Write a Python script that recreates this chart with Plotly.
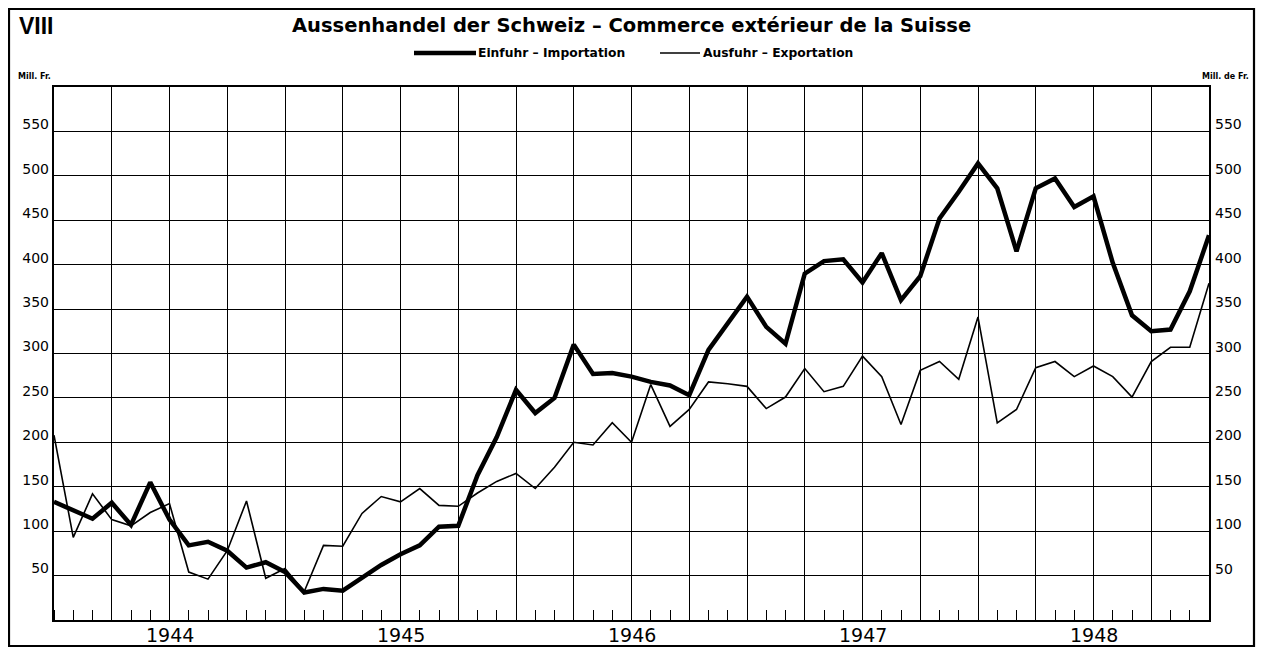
import plotly.graph_objects as go

# ---------------- data (monthly values, Mill. Fr.) ----------------
month_index = list(range(61))  # month positions along the time axis
import_values = [
    133, 124, 114, 132, 107, 155, 113, 84, 88, 78, 59, 65, 54,
    31, 35, 33, 48, 62, 74, 84, 105, 106, 163, 206, 259,
    233, 250, 310, 277, 278, 274, 268, 264, 253, 304, 334, 364,
    330, 311, 390, 404, 406, 380, 413, 360, 387, 452, 482, 514,
    486, 415, 486, 497, 465, 477, 402, 343, 325, 327, 370, 433,
]
export_values = [
    208, 93, 142, 113, 106, 121, 131, 54, 46, 78, 134, 47, 58,
    32, 84, 83, 120, 139, 133, 148, 129, 128, 143, 156, 165,
    148, 172, 200, 197, 222, 200, 265, 218, 237, 268, 266, 263,
    238, 251, 283, 257, 263, 297, 274, 220, 281, 291, 271, 341,
    222, 237, 284, 291, 274, 286, 274, 251, 291, 307, 307, 379,
]
years = ["1944", "1945", "1946", "1947", "1948"]
year_mid_months = [6, 18, 30, 42, 54]
quarter_ticks = list(range(0, 61, 3))
y_ticks = [50, 100, 150, 200, 250, 300, 350, 400, 450, 500, 550]

title_text = "Aussenhandel der Schweiz – Commerce extérieur de la Suisse"
import_label = "Einfuhr – Importation"
export_label = "Ausfuhr – Exportation"

# ---------------- layout helpers (page pixel coords -> paper) ----------------
OFF = 8                      # default page margin of the html body
W, H = 1264 - OFF, 648 - OFF
PL, PR, PT, PB = 54, 1209, 87, 620   # plot box on the page
L, R, T, B = PL - OFF, W - (PR - OFF), PT - OFF, H - (PB - OFF)
PW, PH = W - L - R, H - T - B


def px(x):
    return (x - OFF - L) / PW


def py(y):
    return (H - B - (y - OFF)) / PH


FONT = "DejaVu Sans"

fig = go.Figure()
fig.add_trace(go.Scatter(
    x=month_index, y=export_values, mode="lines", name=export_label,
    line=dict(color="black", width=1.6), showlegend=False,
))
fig.add_trace(go.Scatter(
    x=month_index, y=import_values, mode="lines", name=import_label,
    line=dict(color="black", width=4.5), showlegend=False,
))

fig.update_layout(
    width=W, height=H, autosize=False,
    margin=dict(l=L, r=R, t=T, b=B, pad=0),
    paper_bgcolor="white", plot_bgcolor="white",
    font=dict(family=FONT, color="black"),
    xaxis=dict(
        range=[0, 60], tickmode="array", tickvals=quarter_ticks,
        showticklabels=False,
        showgrid=True, gridcolor="black", gridwidth=1.3,
        ticks="", automargin=False,
        showline=True, linecolor="black", linewidth=2.4, mirror=True,
        zeroline=False, fixedrange=True,
        minor=dict(dtick=1, tick0=0, ticks="inside", ticklen=10, tickwidth=1.3,
                   tickcolor="black", showgrid=False),
    ),
    yaxis=dict(
        range=[0, 600], tickmode="array", tickvals=y_ticks,
        showgrid=True, gridcolor="black", gridwidth=1.3,
        ticks="", tickfont=dict(family=FONT, size=14, color="black"),
        ticklabelshift=-7, ticklabelstandoff=0, automargin=False,
        showline=True, linecolor="black", linewidth=2.4, mirror=True,
        zeroline=False, fixedrange=True,
    ),
)

shapes = [
    # outer frame
    dict(type="rect", xref="paper", yref="paper", x0=px(9), x1=px(1254), y0=py(646), y1=py(9),
         line=dict(color="black", width=2.2), fillcolor="rgba(0,0,0,0)", layer="below"),
    # legend keys
    dict(type="line", xref="paper", yref="paper", x0=px(414), x1=px(476), y0=py(53), y1=py(53),
         line=dict(color="black", width=4.5)),
    dict(type="line", xref="paper", yref="paper", x0=px(660), x1=px(700), y0=py(53), y1=py(53),
         line=dict(color="black", width=1.6)),
]
fig.update_layout(shapes=shapes)

annotations = [
    dict(text=title_text, x=px(631), y=py(25), xref="paper", yref="paper",
         xanchor="center", yanchor="middle", showarrow=False,
         font=dict(family=FONT, size=19.5, color="black", weight="bold")),
    dict(text="VIII", x=px(17), y=py(26), xref="paper", yref="paper",
         xanchor="left", yanchor="middle", showarrow=False,
         font=dict(family="Liberation Sans", size=23, color="black", weight="bold")),
    dict(text=import_label, x=px(476), y=py(53), xref="paper", yref="paper",
         xanchor="left", yanchor="middle", showarrow=False,
         font=dict(family=FONT, size=12.3, color="black", weight="bold")),
    dict(text=export_label, x=px(701), y=py(53), xref="paper", yref="paper",
         xanchor="left", yanchor="middle", showarrow=False,
         font=dict(family=FONT, size=12.3, color="black", weight="bold")),
    dict(text="Mill. Fr.", x=px(16), y=py(76), xref="paper", yref="paper",
         xanchor="left", yanchor="middle", showarrow=False,
         font=dict(family=FONT, size=8, color="black", weight="bold")),
    dict(text="Mill. de Fr.", x=px(1251), y=py(76), xref="paper", yref="paper",
         xanchor="right", yanchor="middle", showarrow=False,
         font=dict(family=FONT, size=8, color="black", weight="bold")),
]
# year labels centred on mid-year positions of the x scale
for yr, m in zip(years, year_mid_months):
    annotations.append(dict(
        text=yr, x=m, y=py(635), xref="x", yref="paper",
        xanchor="center", yanchor="middle", showarrow=False,
        font=dict(family=FONT, size=19, color="black"),
    ))
# right-hand value labels, placed on the y scale
for v in y_ticks:
    annotations.append(dict(
        text=str(v), x=px(1213), y=v, xref="paper", yref="y", yshift=7,
        xanchor="left", yanchor="middle", showarrow=False,
        font=dict(family=FONT, size=14, color="black"),
    ))
fig.update_layout(annotations=annotations)

fig.write_html("out.html")
